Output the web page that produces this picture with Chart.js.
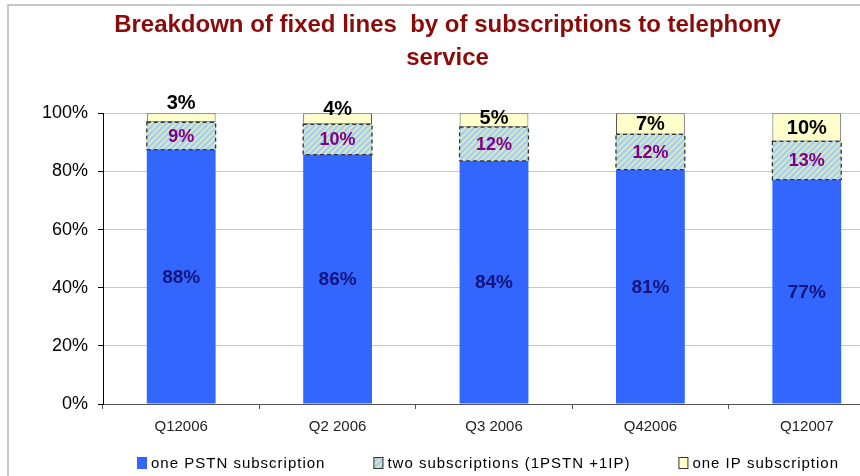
<!DOCTYPE html>
<html>
<head>
<meta charset="utf-8">
<script src="https://cdn.jsdelivr.net/npm/chart.js@4.4.1/dist/chart.umd.min.js"></script>
<style>
  html, body { margin: 0; padding: 0; background: #fff; overflow: hidden; width: 860px; height: 476px; }
  #frame { position: absolute; left: 7px; top: 4px; width: 900px; height: 500px;
           border-left: 2px solid #c8c8c8; border-top: 2px solid #c8c8c8; }
  #wrap { position: absolute; left: 10px; top: 7px; width: 875px; height: 475px; }
</style>
</head>
<body>
<div id="frame"></div>
<div id="wrap"><canvas id="chart"></canvas></div>
<script>
// quarters on the x axis
const quarters = ["Q12006", "Q2 2006", "Q3 2006", "Q42006", "Q12007"];
// segment heights (percent of lines)
const pstnShare = [87.5, 85.8, 83.6, 80.6, 77.2];
const dualShare = [9.4, 10.4, 11.6, 12.1, 13.1];
const ipShare = [3.1, 3.8, 4.8, 7.3, 9.7];
const seriesNames = ["one PSTN subscription", "two subscriptions (1PSTN +1IP)", "one IP subscription"];
const yTicks = [0, 20, 40, 60, 80, 100];

const FONT = "'Liberation Sans', Arial, sans-serif";
Chart.defaults.font.family = FONT;
Chart.defaults.color = "#000";

// light blue with pale yellow diagonal stripes
function makeHatch() {
  const s = 6;
  const c = document.createElement("canvas");
  c.width = s; c.height = s;
  const g = c.getContext("2d");
  g.fillStyle = "#a4d0f7";
  g.fillRect(0, 0, s, s);
  g.strokeStyle = "#f2f0a6";
  g.lineWidth = 1.3;
  g.beginPath();
  g.moveTo(-1, 1); g.lineTo(1, -1);
  g.moveTo(0, s); g.lineTo(s, 0);
  g.moveTo(s - 1, s + 1); g.lineTo(s + 1, s - 1);
  g.stroke();
  return g.createPattern(c, "repeat");
}
const hatch = makeHatch();

const labelStyles = [
  { color: "#14147a", font: "bold 19px " + FONT },
  { color: "#800080", font: "bold 18px " + FONT },
  { color: "#000000", font: "bold 20px " + FONT },
];

// dashed outline of the two-subscription segment + value labels
const segmentLabels = {
  id: "segmentLabels",
  afterDatasetsDraw(chart) {
    const ctx = chart.ctx;
    ctx.save();
    const dashed = chart.getDatasetMeta(1);
    ctx.strokeStyle = "#333";
    ctx.lineWidth = 1.3;
    ctx.setLineDash([4, 3]);
    dashed.data.forEach((el) => {
      const p = el.getProps(["x", "y", "base", "width"], true);
      ctx.strokeRect(p.x - p.width / 2, p.y, p.width, p.base - p.y);
    });
    ctx.setLineDash([]);

    ctx.textAlign = "center";
    ctx.textBaseline = "middle";
    chart.data.datasets.forEach((ds, di) => {
      const meta = chart.getDatasetMeta(di);
      const st = labelStyles[di];
      ctx.fillStyle = st.color;
      ctx.font = st.font;
      meta.data.forEach((el, i) => {
        const p = el.getProps(["x", "y", "base"], true);
        const h = p.base - p.y;
        let cy = (p.y + p.base) / 2;
        if (di === 2 && h < 15) cy -= (15 - h) * 2.5;
        ctx.fillText(Math.round(ds.data[i]) + "%", p.x, cy + 1);
      });
    });
    ctx.restore();
  },
};

// legend row centred under the plot area
const bottomLegend = {
  id: "bottomLegend",
  afterDraw(chart) {
    const ctx = chart.ctx;
    const area = chart.chartArea;
    const y = 456;
    const boxW = 10, boxH = 12, gap = 4, spacing = 48, track = 1;
    ctx.save();
    ctx.font = "15px " + FONT;
    const widths = seriesNames.map((t) => boxW + gap + ctx.measureText(t).width + track * t.length);
    const total = widths.reduce((a, b) => a + b, 0) + spacing * (widths.length - 1);
    let x = (area.left + area.right) / 2 - total / 2 - 6;
    ctx.letterSpacing = track + "px";
    ctx.textBaseline = "middle";
    ctx.textAlign = "left";
    chart.data.datasets.forEach((ds, i) => {
      ctx.fillStyle = ds.backgroundColor;
      ctx.fillRect(x, y - boxH / 2, boxW, boxH);
      if (i > 0) {
        ctx.strokeStyle = "#333";
        ctx.lineWidth = 1;
        ctx.strokeRect(x + 0.5, y - boxH / 2 + 0.5, boxW - 1, boxH - 1);
      }
      ctx.fillStyle = "#000";
      ctx.fillText(seriesNames[i], x + boxW + gap, y + 1);
      x += widths[i] + spacing;
    });
    ctx.restore();
  },
};

new Chart(document.getElementById("chart"), {
  type: "bar",
  data: {
    labels: quarters,
    datasets: [
      { label: seriesNames[0], data: pstnShare, backgroundColor: "#3366ff", borderWidth: 0 },
      { label: seriesNames[1], data: dualShare, backgroundColor: hatch, borderWidth: 0 },
      { label: seriesNames[2], data: ipShare, backgroundColor: "#ffffcc", borderColor: "#555", borderWidth: 1, borderSkipped: false },
    ],
  },
  options: {
    responsive: true,
    maintainAspectRatio: false,
    animation: false,
    categoryPercentage: 1,
    barPercentage: 0.44,
    layout: { padding: { left: 0, right: 0, top: 0, bottom: 37 } },
    plugins: {
      legend: { display: false },
      tooltip: { enabled: false },
      title: {
        display: true,
        text: ["Breakdown of fixed lines  by of subscriptions to telephony", "service"],
        color: "#8b0a0a",
        font: { size: 24, weight: "bold", lineHeight: 1.38 },
        padding: { top: 2, bottom: 38 },
      },
    },
    scales: {
      x: {
        stacked: true,
        grid: { drawOnChartArea: false, tickLength: 5, tickColor: "#555", offset: true },
        border: { color: "#555", width: 1 },
        ticks: { font: { size: 15 }, color: "#222", padding: 9 },
      },
      y: {
        stacked: true,
        min: 0,
        max: 100,
        afterBuildTicks(scale) { scale.ticks = yTicks.map((v) => ({ value: v })); },
        afterFit(scale) { scale.width = 93; },
        grid: { color: "#c8c8c8", tickLength: 5, tickColor: "#000" },
        border: { color: "#000", width: 1 },
        ticks: { font: { size: 18 }, color: "#000", padding: 10, callback: (v) => v + "%" },
      },
    },
  },
  plugins: [segmentLabels, bottomLegend],
});
</script>
</body>
</html>
